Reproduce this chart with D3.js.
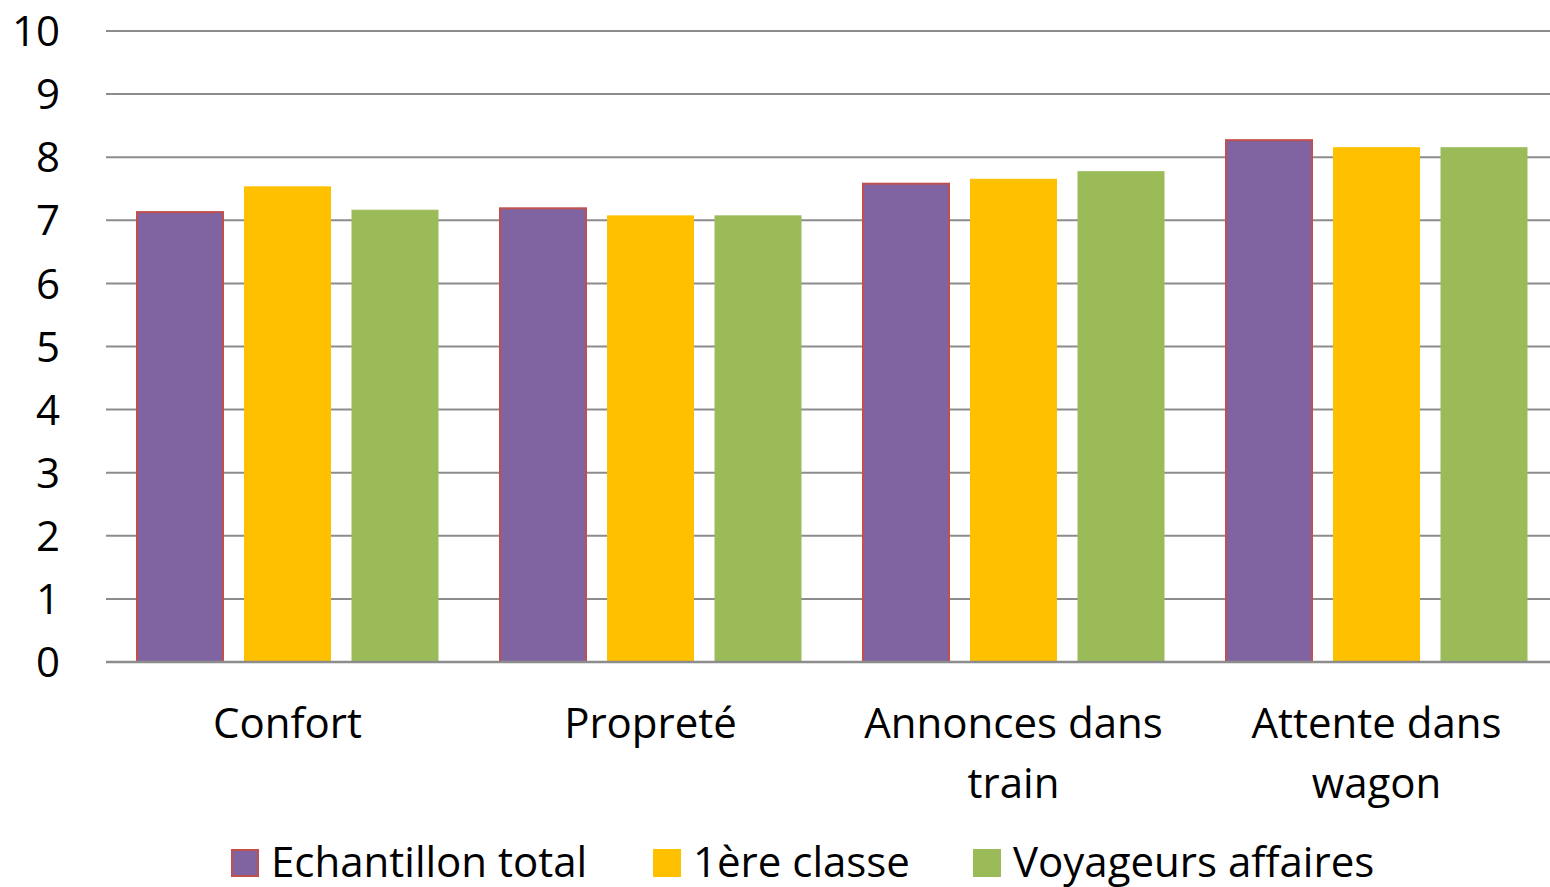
<!DOCTYPE html>
<html>
<head>
<meta charset="utf-8">
<script src="https://cdn.jsdelivr.net/npm/d3@7"></script>
<style>
  body { margin: 0; background: #fff; }
  text { font-family: "Open Sans", Lato, sans-serif; fill: #000; }
</style>
</head>
<body>
<div id="chart"></div>
<script>
var categories = [["Confort"], ["Propreté"], ["Annonces dans", "train"], ["Attente dans", "wagon"]];
var seriesNames = ["Echantillon total", "1ère classe", "Voyageurs affaires"];
var echantillon = [7.13, 7.19, 7.58, 8.27];
var premiere = [7.53, 7.07, 7.65, 8.15];
var affaires = [7.16, 7.07, 7.77, 8.15];
var yTicks = [0, 1, 2, 3, 4, 5, 6, 7, 8, 9, 10];

var colors = ["#8064A2", "#FFC000", "#9BBB59"];
var strokes = ["#C0504D", "#FFC000", "#9BBB59"];

var W = 1550, H = 887;
var m = { left: 106, top: 31, bottom: 225 };
var fs = '42px';

var svg = d3.select('#chart').append('svg')
  .attr('width', W)
  .attr('height', H);

// last band runs a little past the right edge, like the original
var x = d3.scaleBand()
  .domain(d3.range(categories.length))
  .range([m.left, 1558]);

var y = d3.scaleLinear()
  .domain([0, 10])
  .range([H - m.bottom, m.top]);

var x1 = d3.scaleBand()
  .domain(d3.range(3))
  .range([31, x.bandwidth() - 31])
  .paddingInner(0.2);

// gridlines
svg.append('g').selectAll('line').data(yTicks)
  .enter().append('line')
  .attr('x1', m.left)
  .attr('x2', W)
  .attr('y1', function (d) { return y(d); })
  .attr('y2', function (d) { return y(d); })
  .attr('stroke', '#8c8c8c')
  .attr('stroke-width', 2);

// y tick labels
svg.append('g').selectAll('text').data(yTicks)
  .enter().append('text')
  .attr('x', 60)
  .attr('y', function (d) { return y(d); })
  .attr('dy', '0.36em')
  .attr('text-anchor', 'end')
  .style('font-size', fs)
  .text(function (d) { return d; });

var series = [echantillon, premiere, affaires];

series.forEach(function (vals, s) {
  svg.append('g').selectAll('rect').data(vals)
    .enter().append('rect')
    .attr('x', function (d, i) { return x(i) + x1(s); })
    .attr('width', x1.bandwidth())
    .attr('y', function (d) { return y(d); })
    .attr('height', function (d) { return y(0) - y(d); })
    .attr('fill', colors[s])
    .attr('stroke', strokes[s])
    .attr('stroke-width', s === 0 ? 2 : 1);
});

// baseline on top
svg.append('line')
  .attr('x1', m.left).attr('x2', W)
  .attr('y1', y(0)).attr('y2', y(0))
  .attr('stroke', '#8c8c8c').attr('stroke-width', 2.5);

// category labels
var cat = svg.append('g').selectAll('text').data(categories)
  .enter().append('text')
  .attr('x', function (d, i) { return x(i) + x.bandwidth() / 2; })
  .attr('y', 738)
  .attr('text-anchor', 'middle')
  .style('font-size', fs);
cat.selectAll('tspan').data(function (d) { return d; })
  .enter().append('tspan')
  .attr('x', function () { return d3.select(this.parentNode).attr('x'); })
  .attr('dy', function (d, i) { return i === 0 ? 0 : 60; })
  .text(function (d) { return d; });

// legend
var legendX = [232, 654, 974];
var lg = svg.append('g').selectAll('g').data(seriesNames)
  .enter().append('g')
  .attr('transform', function (d, i) { return 'translate(' + legendX[i] + ',850)'; });
lg.append('rect')
  .attr('width', 26).attr('height', 26)
  .attr('fill', function (d, i) { return colors[i]; })
  .attr('stroke', function (d, i) { return strokes[i]; })
  .attr('stroke-width', 2);
lg.append('text')
  .attr('x', 39).attr('y', 27)
  .style('font-size', fs)
  .text(function (d) { return d; });
</script>
</body>
</html>
